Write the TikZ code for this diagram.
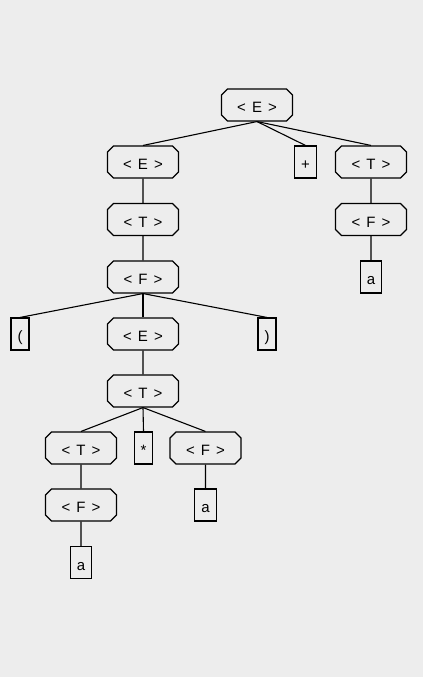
\documentclass[tikz,border=0pt]{standalone}
\usepackage{fontspec}
\setmainfont{Liberation Sans}
\usetikzlibrary{shapes.misc}
\newcommand\nterm[1]{<\kern6pt#1\kern6pt>}
\begin{document}
\begin{tikzpicture}[
    x=1pt, y=-1pt,
    every node/.style={font=\fontsize{15}{17}\selectfont, text height=15pt, text depth=0pt},
    nonterm/.style={
        chamfered rectangle,
        chamfered rectangle xsep=3pt,
        chamfered rectangle ysep=3pt,
        draw,
        line width=1.1pt,
        minimum width=71pt,
        minimum height=32pt,
        inner sep=0pt
    },
    term/.style={
        rectangle,
        draw,
        line width=1.1pt,
        minimum width=15pt,
        minimum height=32pt,
        inner xsep=6.5pt,
        inner ysep=0pt
    },
    branch/.style={
        draw,
        line width=1.1pt
    }
]

% Hintergrund
\fill[black!7] (0,0) rectangle (423,677);

% Knoten
\node[nonterm] (root) at (257,105) {\nterm{E}};

\node[nonterm] (e1) at (143,162) {\nterm{E}};
\node[term] (plus) at (305.5,162) {+};
\node[nonterm] (t1r) at (371,162) {\nterm{T}};

\node[nonterm] (t1) at (143,219.5) {\nterm{T}};
\node[nonterm] (f1r) at (371,219.5) {\nterm{F}};

\node[nonterm] (f1) at (143,277) {\nterm{F}};
\node[term] (a1r) at (371,277) {a};

\node[term] (lpar) at (20,334) {(};
\node[nonterm] (e2) at (143,334) {\nterm{E}};
\node[term] (rpar) at (267,334) {)};

\node[nonterm] (t2) at (143,391) {\nterm{T}};

\node[nonterm] (t3) at (81,448) {\nterm{T}};
\node[term] (star) at (143.5,448) {*};
\node[nonterm] (f3) at (205.5,448) {\nterm{F}};

\node[nonterm] (f4) at (81,505) {\nterm{F}};
\node[term] (a3) at (205.5,505) {a};

\node[term] (a4) at (81,562.5) {a};

% Kanten
\draw[branch] (root.south) -- (e1.north);
\draw[branch] (root.south) -- (plus.north);
\draw[branch] (root.south) -- (t1r.north);
\draw[branch] (e1) -- (t1);
\draw[branch] (t1) -- (f1);
\draw[branch] (t1r) -- (f1r);
\draw[branch] (f1r) -- (a1r);
\draw[branch] (f1.south) -- (lpar.north);
\draw[branch] (f1.south) -- (e2.north);
\draw[branch] (f1.south) -- (rpar.north);
\draw[branch] (e2) -- (t2);
\draw[branch] (t2.south) -- (t3.north);
\draw[branch] (t2.south) -- (star.north);
\draw[branch] (t2.south) -- (f3.north);
\draw[branch] (t3) -- (f4);
\draw[branch] (f4) -- (a4);
\draw[branch] (f3) -- (a3);

\end{tikzpicture}
\end{document}
